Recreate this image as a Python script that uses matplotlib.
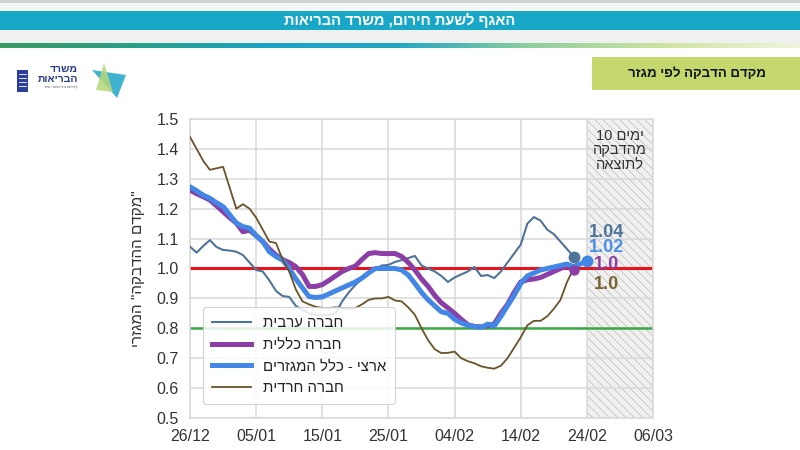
import matplotlib
matplotlib.use("Agg")
import matplotlib.pyplot as plt
import matplotlib.dates as mdates
from matplotlib.patches import Rectangle, Polygon
from matplotlib.colors import LinearSegmentedColormap
import numpy as np
import pandas as pd

plt.rcParams['font.family'] = ['Liberation Sans', 'DejaVu Sans']
plt.rcParams['hatch.linewidth'] = 0.6

def vis(s):
    # matplotlib has no bidi support: give Hebrew in visual order
    return s[::-1]

# ---------------- data ----------------
start_date = '2020-12-26'
arab = [1.073, 1.053, 1.075, 1.095, 1.072, 1.062, 1.06, 1.056, 1.045, 1.02,
        0.995, 0.99, 0.96, 0.925, 0.908, 0.905, 0.875, 0.862, 0.85, 0.845,
        0.843, 0.845, 0.85, 0.89, 0.92, 0.945, 0.965, 0.985, 1.0, 1.01,
        1.012, 1.022, 1.028, 1.035, 1.042, 1.01, 1.0, 0.99, 0.975, 0.955,
        0.97, 0.98, 0.99, 1.005, 0.975, 0.978, 0.968, 0.99, 1.02, 1.05,
        1.08, 1.15, 1.172, 1.16, 1.13, 1.115, 1.09, 1.065, 1.04]
general = [1.262, 1.25, 1.24, 1.229, 1.21, 1.19, 1.17, 1.152, 1.123, 1.128,
           1.11, 1.09, 1.065, 1.045, 1.03, 1.02, 1.006, 0.98, 0.94, 0.94,
           0.946, 0.96, 0.975, 0.99, 1.0, 1.008, 1.03, 1.05, 1.053, 1.05,
           1.05, 1.05, 1.04, 1.02, 0.995, 0.965, 0.94, 0.91, 0.885, 0.868,
           0.85, 0.83, 0.812, 0.806, 0.805, 0.808, 0.815, 0.85, 0.88, 0.92,
           0.955, 0.962, 0.965, 0.97, 0.98, 0.99, 1.0, 1.01, 0.995]
national = [1.273, 1.26, 1.245, 1.235, 1.22, 1.207, 1.18, 1.152, 1.14, 1.135,
            1.11, 1.09, 1.056, 1.04, 1.028, 1.0, 0.965, 0.935, 0.906, 0.903,
            0.905, 0.915, 0.925, 0.935, 0.945, 0.955, 0.968, 0.985, 1.0, 1.0,
            1.0, 1.0, 0.995, 0.978, 0.95, 0.92, 0.895, 0.875, 0.855, 0.85,
            0.83, 0.818, 0.81, 0.806, 0.803, 0.814, 0.808, 0.84, 0.875, 0.91,
            0.95, 0.975, 0.985, 0.995, 1.0, 1.005, 1.01, 1.015, 1.006, 1.015,
            1.026]
haredi = [1.44, 1.40, 1.36, 1.33, 1.335, 1.34, 1.27, 1.20, 1.215, 1.20,
          1.17, 1.13, 1.09, 1.085, 1.03, 0.99, 0.93, 0.89, 0.88, 0.872,
          0.868, 0.868, 0.87, 0.868, 0.865, 0.868, 0.88, 0.895, 0.90, 0.90,
          0.905, 0.893, 0.89, 0.87, 0.845, 0.80, 0.76, 0.73, 0.717, 0.718,
          0.722, 0.70, 0.69, 0.683, 0.673, 0.668, 0.665, 0.675, 0.70, 0.735,
          0.77, 0.81, 0.825, 0.825, 0.84, 0.865, 0.895, 0.955, 1.0]

series_names = ["חברה ערבית", "חברה כללית", "ארצי - כלל המגזרים", "חברה חרדית"]
end_labels = ["1.04", "1.02", "1.0", "1.0"]
xtick_dates = ['2020-12-26', '2021-01-05', '2021-01-15', '2021-01-25',
               '2021-02-04', '2021-02-14', '2021-02-24', '2021-03-06']
lag_start, lag_end = '2021-02-24', '2021-03-06'
yticks = [0.5, 0.6, 0.7, 0.8, 0.9, 1.0, 1.1, 1.2, 1.3, 1.4, 1.5]

header_text = "האגף לשעת חירום, משרד הבריאות"
title_text = "מקדם הדבקה לפי מגזר"
ylabel_text = '"מקדם ההדבקה" המגזרי'

# ---------------- figure ----------------
fig = plt.figure(figsize=(8, 4.5), dpi=100)

# header drawn in pixel coordinates on a background axes
bg = fig.add_axes([0, 0, 1, 1])
bg.set_xlim(0, 800)
bg.set_ylim(450, 0)
bg.axis('off')
bg.add_patch(Rectangle((0, 0), 800, 3, color='#cfd2d3', lw=0))
bg.add_patch(Rectangle((0, 3), 800, 8, color='#f4f5f5', lw=0))
bg.add_patch(Rectangle((0, 11), 800, 19, color='#19a7c8', lw=0))
bg.add_patch(Rectangle((0, 30), 800, 13, color='#eff1f1', lw=0))
grad = LinearSegmentedColormap.from_list(
    'g', ['#3a9a63', '#27a089', '#1ba3c3', '#23a6c4', '#8fcf9e', '#cfe4a0', '#eef5dc'])
bg.imshow(np.linspace(0, 1, 400)[None, :], cmap=grad, aspect='auto',
          extent=(0, 800, 48, 43), zorder=1)
bg.text(400, 20.5, vis(header_text), color='white', fontsize=10.5,
        fontweight='bold', ha='center', va='center')
bg.add_patch(Rectangle((592, 57), 208, 33, color='#c5d86e', lw=0))
bg.text(697, 73.5, vis(title_text), color='#111111', fontsize=9.5,
        fontweight='bold', ha='center', va='center')

# logo
bg.add_patch(Rectangle((17, 70), 11, 22, color='#2c3f9c', lw=0))
for yy in (74, 78, 82, 86):
    bg.plot([19, 26], [yy, yy], color='white', lw=0.6)
bg.text(78, 69, vis("משרד"), color='#243a8f', fontsize=7.5, fontweight='bold',
        ha='right', va='center')
bg.text(78, 78.5, vis("הבריאות"), color='#243a8f', fontsize=7.5, fontweight='bold',
        ha='right', va='center')
bg.text(78, 87.5, vis("לחיים בריאים יותר"), color='#555555', fontsize=3.2,
        ha='right', va='center')
bg.add_patch(Polygon([(92, 70), (126, 75), (117, 98)], color='#3fb3cf', lw=0))
bg.add_patch(Polygon([(104, 63), (113, 92), (96, 90)], color='#b7d77a', lw=0, alpha=0.85))

# ---------------- chart ----------------
ax = fig.add_axes([0.2375, 0.0711, 0.5788, 0.6645])

def dates_for(vals):
    return pd.date_range(start_date, periods=len(vals), freq='D')

ax.axvspan(pd.Timestamp(lag_start), pd.Timestamp(lag_end), facecolor='#f0f0f0',
           edgecolor='#c4c4c4', hatch='\\\\\\\\', lw=0, zorder=0.5)
ax.axhline(1.0, color='#e8141c', lw=2.2, zorder=2)
ax.axhline(0.8, color='#3aa845', lw=1.8, zorder=2)

c_arab, c_gen, c_nat, c_har = '#4f7499', '#8b3fa6', '#4287e6', '#6b5228'
xa, xg, xn, xh = dates_for(arab), dates_for(general), dates_for(national), dates_for(haredi)
ax.plot(xa, arab, color=c_arab, lw=1.5, label=vis(series_names[0]), zorder=3)
ax.plot(xg, general, color=c_gen, lw=3.6, label=vis(series_names[1]), zorder=3)
ax.plot(xn, national, color=c_nat, lw=3.6, label=vis(series_names[2]), zorder=3)
ax.plot(xh, haredi, color=c_har, lw=1.3, label=vis(series_names[3]), zorder=3)

ax.plot(xa[-1:], arab[-1:], 'o', color=c_arab, ms=7.5, zorder=4)
ax.plot(xg[-1:], general[-1:], 'o', color=c_gen, ms=6.5, zorder=3.5)
ax.plot(xn[-1:], national[-1:], 'o', color=c_nat, ms=7.5, zorder=4)

lab_x = pd.Timestamp('2021-02-27')
for txt, col, yv in zip(end_labels, [c_arab, '#4a90e8', c_gen, '#7a6430'],
                        [1.122, 1.069, 1.012, 0.945]):
    ax.text(lab_x, yv, txt, color=col, fontsize=13, fontweight='bold',
            ha='center', va='center', zorder=5)

mid = pd.Timestamp(lag_start) + (pd.Timestamp(lag_end) - pd.Timestamp(lag_start)) / 2
ax.text(mid, 1.465, "10 " + vis("ימים") + "\n" + vis("מהדבקה") + "\n" + vis("לתוצאה"),
        color='#333333', fontsize=10.5, ha='center', va='top', linespacing=1.0, zorder=5)

ax.set_xlim(pd.Timestamp(xtick_dates[0]), pd.Timestamp(xtick_dates[-1]))
ax.set_ylim(0.5, 1.5)
ax.set_yticks(yticks)
ax.set_yticklabels([f"{v:.1f}" for v in yticks])
ax.set_xticks([pd.Timestamp(d) for d in xtick_dates])
ax.xaxis.set_major_formatter(mdates.DateFormatter('%d/%m'))
ax.tick_params(length=0, labelsize=11.5, labelcolor='#333333')
ax.tick_params(axis='y', pad=8)
ax.tick_params(axis='x', pad=8)
ax.grid(True, color='#d9d9d9', lw=1.1, zorder=0)
ax.set_axisbelow(True)
for sp in ax.spines.values():
    sp.set_color('#d9d9d9')
    sp.set_linewidth(1.1)
ax.set_ylabel(vis(ylabel_text), fontsize=11, color='#333333', labelpad=8)

leg = ax.legend(loc='lower left', bbox_to_anchor=(0.012, 0.022), fontsize=10.8,
                handlelength=2.6, labelspacing=0.5, borderpad=0.6,
                framealpha=0.85, edgecolor='#cccccc', fancybox=True)
leg.get_frame().set_linewidth(0.8)
for t in leg.get_texts():
    t.set_color('#222222')

fig.savefig('out.png', dpi=100)
